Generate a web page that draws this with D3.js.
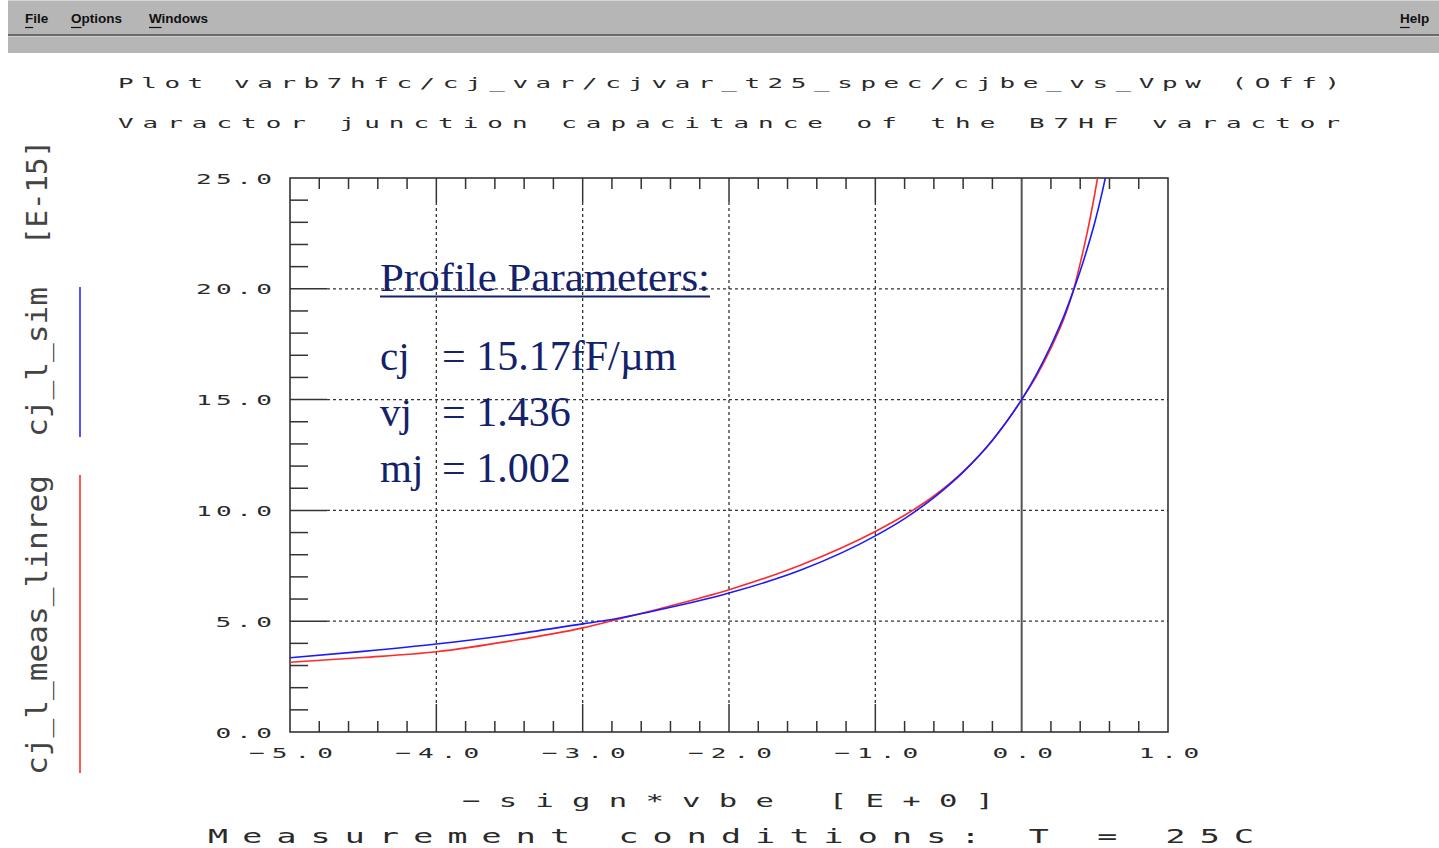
<!DOCTYPE html>
<html><head><meta charset="utf-8">
<script src="https://cdn.jsdelivr.net/npm/d3@7"></script>
<style>html,body{margin:0;padding:0;background:#fff;overflow:hidden}</style>
</head><body>
<svg id="chart" width="1439" height="848"></svg>
<script>
// ---------- data ----------
const voltage = [-5, -4.5, -4, -3.5, -3, -2.8, -2.5, -2, -1.5, -1, -0.8, -0.6, -0.4, -0.2, 0, 0.1, 0.2, 0.3, 0.35, 0.4, 0.45, 0.5, 0.55, 0.6];
const simCap  = [3.35, 3.64, 3.97, 4.38, 4.88, 5.08, 5.48, 6.27, 7.33, 8.85, 9.63, 10.58, 11.73, 13.17, 15.0, 16.13, 17.44, 18.96, 19.85, 20.8, 21.85, 23.0, 24.35, 25.9];
const measCap = [3.15, 3.36, 3.62, 4.1, 4.7, 5.02, 5.52, 6.42, 7.56, 9.05, 9.78, 10.65, 11.75, 13.15, 15.0, 16.05, 17.32, 18.85, 19.85, 21.15, 22.6, 24.3, 26.2, 28.2];
const xTickValues = [-5, -4, -3, -2, -1, 0, 1];
const xTickLabels = ["\u22125.0", "\u22124.0", "\u22123.0", "\u22122.0", "\u22121.0", "0.0", "1.0"];
const yTickValues = [0, 5, 10, 15, 20, 25];
const yTickLabels = ["0.0", "5.0", "10.0", "15.0", "20.0", "25.0"];
const menuItems = ["File", "Options", "Windows"];
const title1 = "Plot varb7hfc/cj_var/cjvar_t25_spec/cjbe_vs_Vpw (Off)";
const title2 = "Varactor junction capacitance of the B7HF varactor";
const xTitle = "\u2212sign*vbe    [E+0]";
const footer = "Measurement conditions: T = 25C";
const paramLabels = ["cj", "vj", "mj"];
const paramValues = ["= 15.17fF/\u00b5m", "= 1.436", "= 1.002"];

// ---------- setup ----------
const svg = d3.select("#chart");
const x = d3.scaleLinear().domain([-5, 1]).range([290, 1168]);
const y = d3.scaleLinear().domain([0, 25]).range([732, 178]);
const MONO = "'DejaVu Sans Mono', monospace";
const TXT = "#2a2a2a";

// stretched mono text helper: visual span x0..x1, baseline yb
function vt(str, x0, x1, yb, size, sx, color) {
  const g = svg.append("g").attr("transform", `translate(${x0},${yb}) scale(${sx},1)`);
  g.append("text").attr("x", 0).attr("y", 0)
    .attr("font-family", MONO).attr("font-size", size).attr("fill", color || TXT)
    .attr("textLength", (x1 - x0) / sx).attr("lengthAdjust", "spacing")
    .text(str);
  return g;
}

// ---------- menu bar ----------
svg.append("rect").attr("x", 8).attr("y", 0).attr("width", 1431).attr("height", 53).attr("fill", "#b6b6b6");
svg.append("line").attr("x1", 8).attr("x2", 1439).attr("y1", 0.5).attr("y2", 0.5).attr("stroke", "#d6d6d6");
svg.append("line").attr("x1", 8).attr("x2", 1439).attr("y1", 35).attr("y2", 35).attr("stroke", "#6a6a6a").attr("stroke-width", 2);
svg.append("line").attr("x1", 8).attr("x2", 1439).attr("y1", 36.5).attr("y2", 36.5).attr("stroke", "#cfcfcf").attr("stroke-width", 1);
const menuX = [25, 71, 149];
function menuText(str, mx) {
  const t = svg.append("text").attr("x", mx).attr("y", 23)
    .attr("font-family", "'Liberation Sans', Arial, sans-serif").attr("font-weight", "bold")
    .attr("font-size", 13.5).attr("fill", "#111").text(str);
  const w = t.node().getSubStringLength(0, 1);
  svg.append("line").attr("x1", mx).attr("x2", mx + w).attr("y1", 27.5).attr("y2", 27.5)
    .attr("stroke", "#111").attr("stroke-width", 1.2);
}
menuItems.forEach((m, i) => menuText(m, menuX[i]));
menuText("Help", 1400);

// ---------- titles ----------
vt(title1, 118, 1340, 88, 14, 1.85);
vt(title2, 118, 1340, 128, 14, 1.85);

// ---------- grid ----------
const grid = svg.append("g");
[-4, -3, -2, -1].forEach(v => {
  grid.append("line").attr("x1", x(v)).attr("x2", x(v)).attr("y1", y(25) + 24).attr("y2", y(0) - 28)
    .attr("stroke", "#333").attr("stroke-width", 1.3).attr("stroke-dasharray", "3,3");
  grid.append("line").attr("x1", x(v)).attr("x2", x(v)).attr("y1", y(25)).attr("y2", y(25) + 24)
    .attr("stroke", "#333").attr("stroke-width", 1.5);
  grid.append("line").attr("x1", x(v)).attr("x2", x(v)).attr("y1", y(0) - 28).attr("y2", y(0))
    .attr("stroke", "#333").attr("stroke-width", 1.5);
});
[5, 10, 15, 20].forEach(v => {
  grid.append("line").attr("x1", x(-5) + 37).attr("x2", x(1)).attr("y1", y(v)).attr("y2", y(v))
    .attr("stroke", "#333").attr("stroke-width", 1.3).attr("stroke-dasharray", "3,3");
  grid.append("line").attr("x1", x(-5)).attr("x2", x(-5) + 37).attr("y1", y(v)).attr("y2", y(v))
    .attr("stroke", "#333").attr("stroke-width", 1.5);
});
// zero line
grid.append("line").attr("x1", x(0)).attr("x2", x(0)).attr("y1", y(25)).attr("y2", y(0))
  .attr("stroke", "#555").attr("stroke-width", 2);

// minor ticks
d3.range(-5, 1.0001, 0.2).forEach(v => {
  const r = Math.round(v * 10) / 10;
  if (Math.abs(r - Math.round(r)) < 1e-6) return;
  grid.append("line").attr("x1", x(r)).attr("x2", x(r)).attr("y1", y(0)).attr("y2", y(0) - 11)
    .attr("stroke", "#333").attr("stroke-width", 1.5);
  grid.append("line").attr("x1", x(r)).attr("x2", x(r)).attr("y1", y(25)).attr("y2", y(25) + 11)
    .attr("stroke", "#333").attr("stroke-width", 1.5);
});
d3.range(1, 25).forEach(v => {
  if (v % 5 === 0) return;
  grid.append("line").attr("x1", x(-5)).attr("x2", x(-5) + 18).attr("y1", y(v)).attr("y2", y(v))
    .attr("stroke", "#333").attr("stroke-width", 1.5);
});

// frame
svg.append("rect").attr("x", x(-5)).attr("y", y(25)).attr("width", x(1) - x(-5)).attr("height", y(0) - y(25))
  .attr("fill", "none").attr("stroke", "#333").attr("stroke-width", 1.6);

// tick labels
yTickValues.forEach((v, i) => {
  const s = yTickLabels[i];
  const w = s.length * 19.5 - 4;
  vt(s, 270 - w, 272, y(v) + 5.5, 14.5, 1.8);
});
xTickValues.forEach((v, i) => {
  const s = xTickLabels[i];
  const w = s.length * 19.5 + (s[0] === "\u2212" ? 4 : 0);
  vt(s, x(v) - w / 2, x(v) + w / 2 + 2, 758, 14.5, 1.8);
});

// axis titles
vt(xTitle, 462, 994, 807, 18, 1.7);
vt(footer, 208, 1254, 843, 19, 1.75);

// rotated y label
function ylab(str, yBottom, yTop, color) {
  const g = svg.append("g").attr("transform", `translate(47,${yBottom}) rotate(-90)`);
  g.append("text").attr("x", 0).attr("y", 0)
    .attr("font-family", MONO).attr("font-size", 29).attr("fill", color || "#444")
    .attr("textLength", yBottom - yTop).attr("lengthAdjust", "spacingAndGlyphs")
    .text(str);
}
ylab("cj_l_meas_linreg", 775, 475);
ylab("cj_l_sim", 437, 287);
ylab("[E-15]", 245, 140);
svg.append("line").attr("x1", 80).attr("x2", 80).attr("y1", 475).attr("y2", 773).attr("stroke", "#ff3030").attr("stroke-width", 1.6);
svg.append("line").attr("x1", 80).attr("x2", 80).attr("y1", 287).attr("y2", 437).attr("stroke", "#2a2aff").attr("stroke-width", 1.6);

// ---------- curves ----------
svg.append("clipPath").attr("id", "plotclip").append("rect")
  .attr("x", x(-5)).attr("y", y(25)).attr("width", x(1) - x(-5)).attr("height", y(0) - y(25));
const line = d3.line().x(d => x(d[0])).y(d => y(d[1])).curve(d3.curveMonotoneX);
const curves = svg.append("g").attr("clip-path", "url(#plotclip)");
curves.append("path").datum(voltage.map((v, i) => [v, measCap[i]]))
  .attr("d", line).attr("fill", "none").attr("stroke", "#ff2a2a").attr("stroke-width", 1.6);
curves.append("path").datum(voltage.map((v, i) => [v, simCap[i]]))
  .attr("d", line).attr("fill", "none").attr("stroke", "#1a1aff").attr("stroke-width", 1.6);

// ---------- profile parameter annotation ----------
const NAVY = "#13226a";
const SERIF = "'Liberation Serif', 'Times New Roman', serif";
svg.append("text").attr("x", 380).attr("y", 291).attr("font-family", SERIF).attr("font-size", 41)
  .attr("fill", NAVY).attr("textLength", 330).attr("lengthAdjust", "spacingAndGlyphs").text("Profile Parameters:");
svg.append("line").attr("x1", 380).attr("x2", 710).attr("y1", 296.5).attr("y2", 296.5).attr("stroke", NAVY).attr("stroke-width", 2);
const pY = [370, 426, 482];
paramLabels.forEach((lab, i) => {
  svg.append("text").attr("x", 380).attr("y", pY[i]).attr("font-family", SERIF).attr("font-size", 41)
    .attr("fill", NAVY).text(lab);
  svg.append("text").attr("x", 442).attr("y", pY[i]).attr("font-family", SERIF).attr("font-size", 42)
    .attr("fill", NAVY).text(paramValues[i]);
});
</script>
</body></html>
